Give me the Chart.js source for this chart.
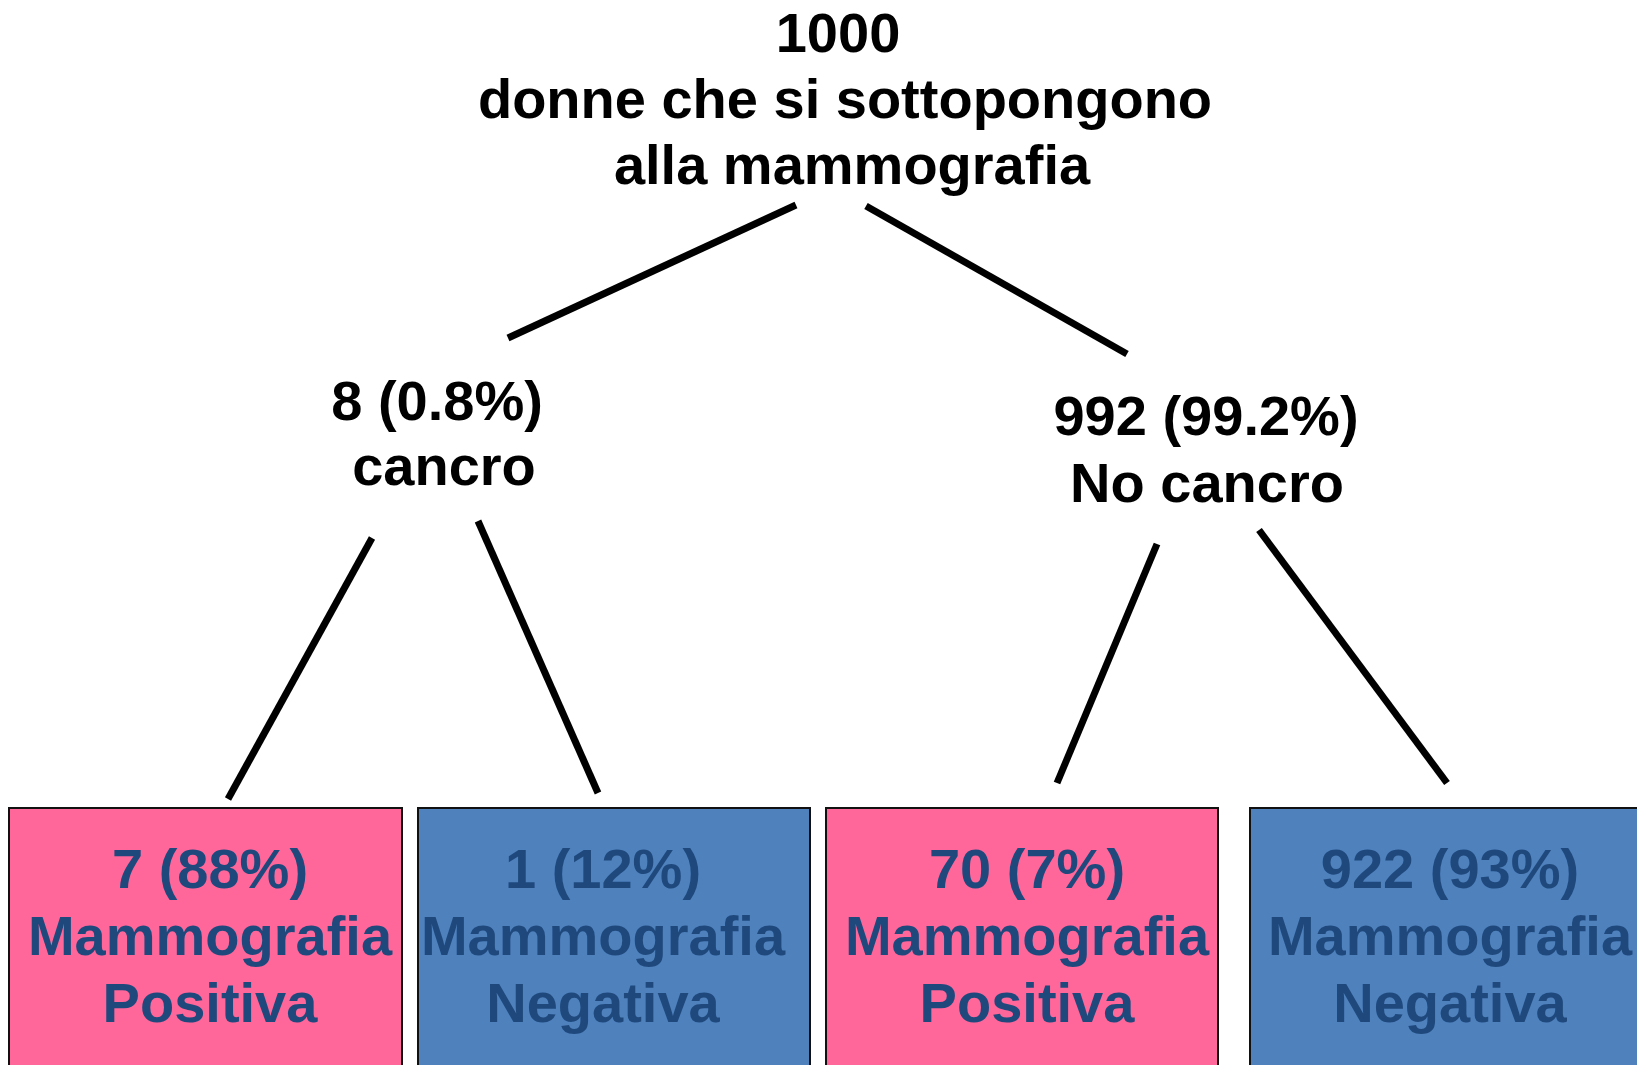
<!DOCTYPE html>
<html>
<head>
<meta charset="utf-8">
<title>Albero mammografia</title>
<script src="https://cdn.jsdelivr.net/npm/chart.js@4/dist/chart.umd.min.js"></script>
<style>
  html, body { margin: 0; padding: 0; background: #ffffff; }
  #wrap { width: 1637px; height: 1065px; }
</style>
</head>
<body>
<div id="wrap"><canvas id="c" width="1637" height="1065"></canvas></div>
<script>
// ---- data ----
const nodeCounts   = [1000, 8, 992, 7, 1, 70, 922];
const nodePercents = [null, 0.8, 99.2, 88, 12, 7, 93];
const nodeLabels   = [
  ['donne che si sottopongono', 'alla mammografia'],
  ['cancro'],
  ['No cancro'],
  ['Mammografia', 'Positiva'],
  ['Mammografia', 'Negativa'],
  ['Mammografia', 'Positiva'],
  ['Mammografia', 'Negativa']
];
const leafResults  = ['Positiva', 'Negativa', 'Positiva', 'Negativa'];

// ---- layout (diagram units = canvas pixels) ----
const W = 1637, H = 1065;
// text anchor per node: per-line centre x and first baseline y
const textCenters = [
  [838, 845, 852],
  [437, 444],
  [1206, 1207],
  [210, 210, 210],
  [603, 603, 603],
  [1027, 1027, 1027],
  [1450, 1450, 1450]
];
const textBaselines = [52, 420, 435, 888, 888, 888, 888];
const lineGaps      = [66, 65, 67, 67, 67, 67, 67];
// branches: [x1, y1, x2, y2]
const branchSegments = [
  [508, 338, 796, 205],
  [866, 206, 1127, 354],
  [372, 538, 228, 799],
  [478, 521, 598, 793],
  [1157, 544, 1057, 783],
  [1259, 530, 1447, 783]
];
// leaf boxes: [left, top, right]
const boxEdges = [
  [9, 808, 402],
  [418, 808, 810],
  [826, 808, 1218],
  [1250, 808, 1645]
];
const BOX_BOTTOM = 1075;

const COLORS = { Positiva: '#FF6699', Negativa: '#4F81BD' };
const LEAF_TEXT = '#1F497D';
const FONT = 'bold 56px "Liberation Sans", Arial, sans-serif';

// ---- datasets ----
const datasets = [];
boxEdges.forEach((b, i) => {
  datasets.push({
    label: 'box' + i,
    data: [
      { x: b[0], y: BOX_BOTTOM },
      { x: b[0], y: b[1] },
      { x: b[2], y: b[1] },
      { x: b[2], y: BOX_BOTTOM }
    ],
    showLine: true,
    borderColor: '#111111',
    borderWidth: 2,
    backgroundColor: COLORS[leafResults[i]],
    fill: { value: BOX_BOTTOM },
    pointRadius: 0,
    tension: 0
  });
});
branchSegments.forEach((s, i) => {
  datasets.push({
    label: 'branch' + i,
    data: [{ x: s[0], y: s[1] }, { x: s[2], y: s[3] }],
    showLine: true,
    borderColor: '#000000',
    borderWidth: 7,
    borderCapStyle: 'butt',
    fill: false,
    pointRadius: 0
  });
});

function nodeLines(i) {
  const first = nodePercents[i] === null
    ? String(nodeCounts[i])
    : nodeCounts[i] + ' (' + nodePercents[i] + '%)';
  return [first].concat(nodeLabels[i]);
}

const textPlugin = {
  id: 'nodeText',
  afterDatasetsDraw(chart) {
    const ctx = chart.ctx;
    const xs = chart.scales.x, ys = chart.scales.y;
    ctx.save();
    ctx.font = FONT;
    ctx.textAlign = 'center';
    ctx.textBaseline = 'alphabetic';
    for (let i = 0; i < nodeCounts.length; i++) {
      const lines = nodeLines(i);
      ctx.fillStyle = i >= 3 ? LEAF_TEXT : '#000000';
      lines.forEach((t, k) => {
        const px = xs.getPixelForValue(textCenters[i][k]);
        const py = ys.getPixelForValue(textBaselines[i] + k * lineGaps[i]);
        ctx.fillText(t, px, py);
      });
    }
    ctx.restore();
  }
};

new Chart(document.getElementById('c'), {
  type: 'scatter',
  data: { datasets },
  options: {
    responsive: false,
    animation: false,
    layout: { padding: 0 },
    plugins: { legend: { display: false }, tooltip: { enabled: false } },
    scales: {
      x: { type: 'linear', min: 0, max: W, display: false },
      y: { type: 'linear', min: 0, max: H, reverse: true, display: false }
    }
  },
  plugins: [textPlugin]
});
</script>
</body>
</html>
